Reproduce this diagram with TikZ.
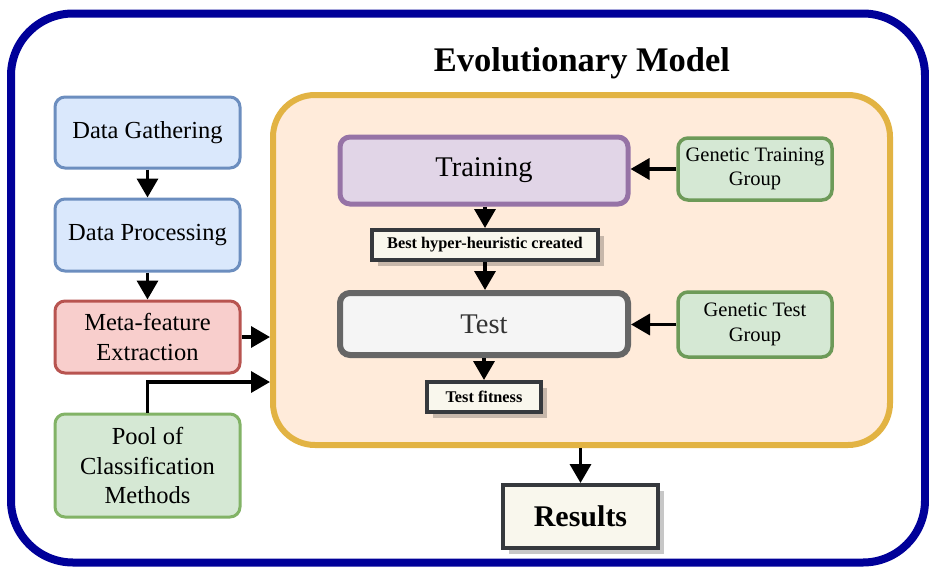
\documentclass[tikz,border=0pt]{standalone}
\usepackage{fontspec}
\setmainfont{Liberation Serif}
\usetikzlibrary{arrows.meta,shadows}

\definecolor{frameblue}{HTML}{000099}
\definecolor{evoline}{HTML}{E2B343}
\definecolor{evofill}{HTML}{FFEBDA}
\definecolor{blueline}{HTML}{6C8EBF}
\definecolor{bluefill}{HTML}{DAE8FC}
\definecolor{redline}{HTML}{B85450}
\definecolor{redfill}{HTML}{F8CECC}
\definecolor{greenline}{HTML}{82B366}
\definecolor{greenfill}{HTML}{D5E8D4}
\definecolor{darkgreenline}{HTML}{6D9A58}
\definecolor{purpleline}{HTML}{9673A6}
\definecolor{purplefill}{HTML}{E1D5E7}
\definecolor{greyline}{HTML}{666666}
\definecolor{greyfill}{HTML}{F5F5F5}
\definecolor{greytext}{HTML}{333333}
\definecolor{noteline}{HTML}{36393D}
\definecolor{notefill}{HTML}{F9F7ED}

\tikzset{
  box/.style={draw, rounded corners=10pt, align=center, inner sep=2pt,
    font=\fontsize{24.5}{29.5}\selectfont},
  sidebox/.style={box, line width=3pt, minimum width=185pt},
  groupbox/.style={box, fill=greenfill, draw=darkgreenline, line width=3.5pt,
    minimum width=154pt, font=\fontsize{20.5}{24.5}\selectfont},
  stagebox/.style={box, minimum width=288pt, font=\fontsize{28.5}{32}\selectfont},
  notebox/.style={draw=noteline, fill=notefill, line width=4pt, inner sep=2pt,
    drop shadow={shadow xshift=6pt, shadow yshift=-6pt, fill=black, opacity=0.22}},
  flow/.style={line width=3.5pt, -{Triangle[width=21pt,length=19pt]}},
}

\begin{document}
\begin{tikzpicture}[x=1pt,y=-1pt]
  \useasboundingbox (0,0) rectangle (929,570);

  % outer frame
  \node[draw=frameblue, line width=8pt, rounded corners=62pt, fill=white,
        minimum width=914pt, minimum height=549pt] (frame) at (468,288) {};

  \node[font=\fontsize{34.5}{38}\bfseries\selectfont] (title) at (582,63) {Evolutionary Model};

  % evolutionary model container
  \node[draw=evoline, fill=evofill, line width=6pt, rounded corners=42pt,
        minimum width=617pt, minimum height=350pt] (evo) at (581.5,270) {};

  % left column
  \node[sidebox, fill=bluefill, draw=blueline, minimum height=71pt] (gather) at (147.5,132.5) {Data Gathering};
  \node[sidebox, fill=bluefill, draw=blueline, minimum height=72pt] (process) at (147.5,235) {Data Processing};
  \node[sidebox, fill=redfill, draw=redline, minimum height=72pt] (meta) at (147.5,337) {Meta-feature\\Extraction};
  \node[sidebox, fill=greenfill, draw=greenline, minimum height=103pt] (pool) at (147.5,465.5) {Pool of\\Classification\\Methods};

  % inner stages
  \node[stagebox, fill=purplefill, draw=purpleline, line width=5pt, minimum height=67pt] (train) at (484,170.5) {Training};
  \node[stagebox, fill=greyfill, draw=greyline, line width=6pt, minimum height=62pt, text=greytext] (test) at (484,324) {Test};
  \node[groupbox, minimum height=62pt] (gtrain) at (755,169) {Genetic Training\\Group};
  \node[groupbox, minimum height=65pt] (gtest) at (755,324.5) {Genetic Test\\Group};

  \node[notebox, minimum width=226pt, minimum height=30pt,
        font=\fontsize{16.3}{18}\bfseries\selectfont] (best) at (485,245) {Best hyper-heuristic created};
  \node[notebox, minimum width=114pt, minimum height=30pt,
        font=\fontsize{16.3}{18}\bfseries\selectfont] (fit) at (484,397) {Test fitness};
  \node[notebox, minimum width=155pt, minimum height=63pt,
        font=\fontsize{30}{32}\bfseries\selectfont] (results) at (580.5,516.5) {Results};

  % connectors
  \draw[flow] (gather) -- (process);
  \draw[flow] (process) -- (meta);
  \draw[flow] (meta.east) -- (meta.east -| evo.west);
  \coordinate (poolturn) at (147.5,382);
  \draw[flow] (pool.north) -- (poolturn) -- (poolturn -| evo.west);

  \draw[flow] (gtrain.west) -- (gtrain.west -| train.east);
  \draw[flow] (gtest.west) -- (gtest.west -| test.east);
  \draw[flow] (train.south -| best.north) -- (best.north);
  \draw[flow] (best.south) -- (best.south |- test.north);
  \draw[flow] (test.south) -- (fit.north);
  \draw[flow] (evo.south -| results.north) -- (results.north);
\end{tikzpicture}
\end{document}
